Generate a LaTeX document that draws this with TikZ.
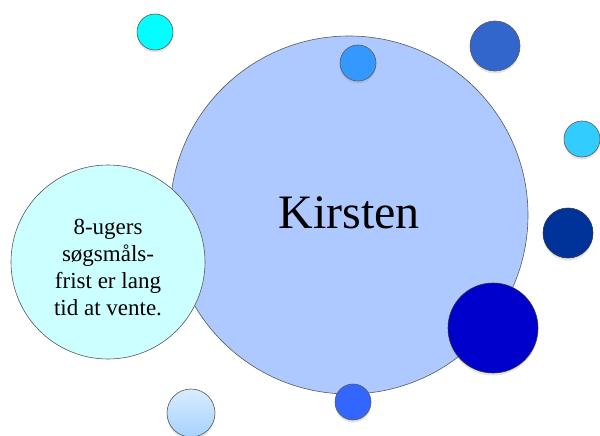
\documentclass[tikz,border=0pt]{standalone}
\usepackage{fontspec}
\setmainfont{Liberation Serif}
\usetikzlibrary{shadows}
\begin{document}
\begin{tikzpicture}[x=1pt,y=-1pt,
  bub/.style={circle,draw=black!65,line width=0.6pt,inner sep=0pt,
    drop shadow={opacity=0.22,shadow xshift=0pt,shadow yshift=-2.5pt}},
  plain/.style={circle,draw=black!65,line width=0.6pt,inner sep=0pt}]
\useasboundingbox (0,0) rectangle (600,436);
\clip (0,0) rectangle (600,436);
\definecolor{bigc}{HTML}{ADC9FF}
\definecolor{leftc}{HTML}{CCFFFF}
\node[plain,fill=bigc,minimum size=358pt] (kirsten) at (349,215) {};
\node[font=\fontsize{48}{52}\selectfont] (name) at (349,213) {Kirsten};
\node[plain,fill=leftc,minimum size=194pt] (quote) at (108,262) {};
\node[align=center,font=\fontsize{23}{27}\selectfont] (qtext) at (108,268) {8-ugers\\søgsmåls-\\frist er lang\\tid at vente.};
\node[bub,fill={rgb,255:red,0;green,255;blue,255},minimum size=36pt] (c1) at (155,32) {};
\node[bub,fill={rgb,255:red,51;green,153;blue,255},minimum size=36pt] (c2) at (358,63) {};
\node[bub,fill={rgb,255:red,51;green,102;blue,204},minimum size=50pt] (c3) at (495,46) {};
\node[bub,fill={rgb,255:red,51;green,204;blue,255},minimum size=36pt] (c4) at (582,139) {};
\node[bub,fill={rgb,255:red,0;green,51;blue,153},draw=black!80,minimum size=50pt] (c5) at (568,233) {};
\node[bub,fill={rgb,255:red,0;green,0;blue,204},draw=black!80,minimum size=90pt] (c6) at (493,328) {};
\node[bub,fill={rgb,255:red,51;green,102;blue,255},minimum size=36pt] (c7) at (353,402) {};
\node[bub,top color={rgb,255:red,218;green,236;blue,255},bottom color={rgb,255:red,166;green,210;blue,255},minimum size=48pt] (c8) at (191,413) {};
\end{tikzpicture}
\end{document}
